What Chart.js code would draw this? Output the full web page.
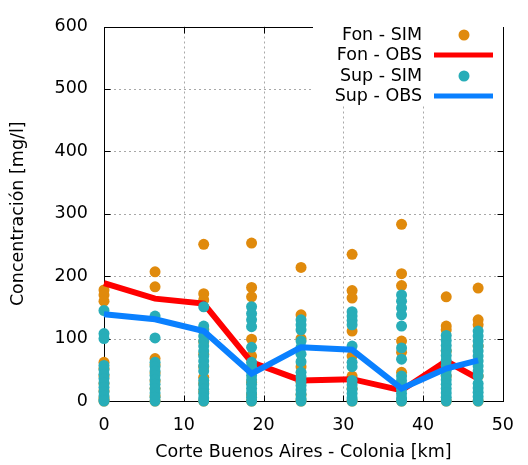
<!DOCTYPE html>
<html>
<head>
<meta charset="utf-8">
<script src="https://cdn.jsdelivr.net/npm/chart.js@4.4.1/dist/chart.umd.min.js"></script>
<style>
html,body{margin:0;padding:0;background:#fff;}
#wrap{width:528px;height:465px;position:relative;}
</style>
</head>
<body>
<div id="wrap"><canvas id="c" width="528" height="465"></canvas></div>
<script>
// ---- data ----
const stations = [0, 6.4, 12.5, 18.5, 24.7, 31.1, 37.3, 42.9, 46.9];
const fonObs = [189, 164, 156, 62, 33, 35, 17, 64, 36];
const supObs = [139, 131, 112, 44, 86, 82, 20, 52, 65];
const fonSim = [
  [178, 170, 160, 62, 52, 40, 28, 16, 5, 0],
  [207, 183, 68, 58, 45, 32, 20, 8, 0],
  [251, 172, 162, 115, 95, 75, 55, 38, 28, 15, 0],
  [253, 182, 167, 99, 72, 50, 30, 10, 0],
  [214, 138, 100, 55, 30, 10, 0],
  [235, 177, 165, 112, 72, 40, 20, 0],
  [283, 204, 185, 96, 78, 46, 25, 0],
  [167, 120, 114, 80, 40, 0],
  [181, 130, 122, 88, 40, 0]
];
const supSim = [
  [145, 108, 100, 57, 50, 43, 36, 29, 22, 15, 8, 2, 0],
  [136, 101, 62, 55, 48, 41, 34, 27, 20, 13, 6, 0],
  [151, 120, 112, 104, 96, 88, 80, 72, 64, 56, 48, 33, 26, 19, 12, 5, 0],
  [151, 140, 130, 119, 86, 62, 55, 48, 41, 34, 27, 20, 13, 6, 0],
  [130, 122, 114, 96, 86, 75, 63, 46, 39, 32, 25, 18, 11, 4, 0],
  [143, 136, 129, 122, 88, 62, 55, 33, 26, 19, 12, 5, 0],
  [170, 160, 149, 138, 120, 85, 67, 40, 33, 26, 19, 12, 5, 0],
  [105, 97, 89, 81, 73, 65, 57, 49, 41, 34, 27, 20, 13, 6, 0],
  [112, 104, 96, 88, 80, 72, 64, 56, 48, 40, 28, 21, 14, 7, 0]
];
const seriesNames = ['Fon - SIM', 'Fon - OBS', 'Sup - SIM', 'Sup - OBS'];
const xTicks = [0, 10, 20, 30, 40, 50];
const yTicks = [0, 100, 200, 300, 400, 500, 600];
const xTitle = 'Corte Buenos Aires - Colonia [km]';
const yTitle = 'Concentración [mg/l]';

const ORANGE = '#e08a0c', RED = '#ff0000', TEAL = '#28adb8', BLUE = '#0a80ff';
const FONT = '"DejaVu Sans", sans-serif';
const FS = 17.5;

function simPoints(sim) {
  const pts = [];
  sim.forEach((vals, i) => vals.forEach(v => pts.push({x: stations[i], y: v})));
  return pts;
}
function obsPoints(obs) { return obs.map((v, i) => ({x: stations[i], y: v})); }

const framePlugin = {
  id: 'frame',
  beforeDatasetsDraw(chart) {
    const {ctx, chartArea: a, scales: {x, y}} = chart;
    ctx.save();
    // dotted grid
    ctx.strokeStyle = '#a8a8a8';
    ctx.lineWidth = 1;
    ctx.setLineDash([2, 3]);
    xTicks.forEach(t => {
      if (t === x.min || t === x.max) return;
      const px = Math.round(x.getPixelForValue(t)) + 0.5;
      ctx.beginPath(); ctx.moveTo(px, a.top); ctx.lineTo(px, a.bottom); ctx.stroke();
    });
    yTicks.forEach(t => {
      if (t === y.min || t === y.max) return;
      const py = Math.round(y.getPixelForValue(t)) + 0.5;
      ctx.beginPath(); ctx.moveTo(a.left, py); ctx.lineTo(a.right, py); ctx.stroke();
    });
    ctx.setLineDash([]);
    ctx.strokeStyle = '#000';
    // frame
    const L = Math.round(a.left) + 0.5, R = Math.round(a.right) + 0.5;
    const T = Math.round(a.top) + 0.5, B = Math.round(a.bottom) + 0.5;
    ctx.strokeRect(L, T, R - L, B - T);
    // inward ticks on all four sides
    const tl = 6;
    xTicks.forEach(t => {
      const px = Math.round(x.getPixelForValue(t)) + 0.5;
      ctx.beginPath();
      ctx.moveTo(px, B); ctx.lineTo(px, B - tl);
      ctx.moveTo(px, T); ctx.lineTo(px, T + tl);
      ctx.stroke();
    });
    yTicks.forEach(t => {
      const py = Math.round(y.getPixelForValue(t)) + 0.5;
      ctx.beginPath();
      ctx.moveTo(L, py); ctx.lineTo(L + tl, py);
      ctx.moveTo(R, py); ctx.lineTo(R - tl, py);
      ctx.stroke();
    });
    ctx.restore();
  },
  afterDatasetsDraw(chart) {
    const {ctx} = chart;
    ctx.save();
    ctx.fillStyle = '#fff';
    ctx.fillRect(313, 23, 190, 83);
    const rows = [35, 55, 76, 96];
    const textRight = 422;
    ctx.font = FS + 'px ' + FONT;
    ctx.textAlign = 'right';
    ctx.textBaseline = 'middle';
    chart.data.datasets.forEach((ds, i) => {
      const yy = rows[i];
      ctx.fillStyle = '#000';
      ctx.fillText(ds.label, textRight, yy);
      if (ds.showLine) {
        ctx.strokeStyle = ds.borderColor;
        ctx.lineWidth = 5;
        ctx.beginPath(); ctx.moveTo(434, yy); ctx.lineTo(493, yy); ctx.stroke();
      } else {
        ctx.fillStyle = ds.backgroundColor;
        ctx.beginPath(); ctx.arc(464, yy, 5.5, 0, Math.PI * 2); ctx.fill();
      }
    });
    ctx.restore();
  }
};

new Chart(document.getElementById('c'), {
  type: 'scatter',
  data: {
    datasets: [
      {label: seriesNames[0], data: simPoints(fonSim), backgroundColor: ORANGE, borderWidth: 0, pointRadius: 5.5, order: 4, clip: false},
      {label: seriesNames[1], data: obsPoints(fonObs), showLine: true, borderColor: RED, backgroundColor: RED, borderWidth: 6, pointRadius: 0, order: 3, clip: false},
      {label: seriesNames[2], data: simPoints(supSim), backgroundColor: TEAL, borderWidth: 0, pointRadius: 5.5, order: 2, clip: false},
      {label: seriesNames[3], data: obsPoints(supObs), showLine: true, borderColor: BLUE, backgroundColor: BLUE, borderWidth: 6, pointRadius: 0, order: 1, clip: false}
    ]
  },
  options: {
    responsive: false,
    animation: false,
    events: [],
    layout: {padding: {top: 20, right: 12, left: 0, bottom: 0}},
    plugins: {legend: {display: false}, tooltip: {enabled: false}},
    scales: {
      x: {
        type: 'linear', min: 0, max: 50,
        afterFit(s) { s.height = 64; },
        afterBuildTicks(s) { s.ticks = xTicks.map(v => ({value: v})); },
        grid: {display: false, drawTicks: false},
        border: {display: false},
        ticks: {color: '#000', font: {family: FONT, size: FS}, padding: 14, maxRotation: 0},
        title: {display: true, text: xTitle, color: '#000', font: {family: FONT, size: FS}, padding: {top: 0, bottom: 2}}
      },
      y: {
        type: 'linear', min: 0, max: 600,
        afterFit(s) { s.width = 104; },
        afterBuildTicks(s) { s.ticks = yTicks.map(v => ({value: v})); },
        grid: {display: false, drawTicks: false},
        border: {display: false},
        ticks: {color: '#000', font: {family: FONT, size: FS}, padding: 16},
        title: {display: true, text: yTitle, color: '#000', font: {family: FONT, size: FS}, padding: {top: 8, bottom: 0}}
      }
    }
  },
  plugins: [framePlugin]
});
</script>
</body>
</html>
